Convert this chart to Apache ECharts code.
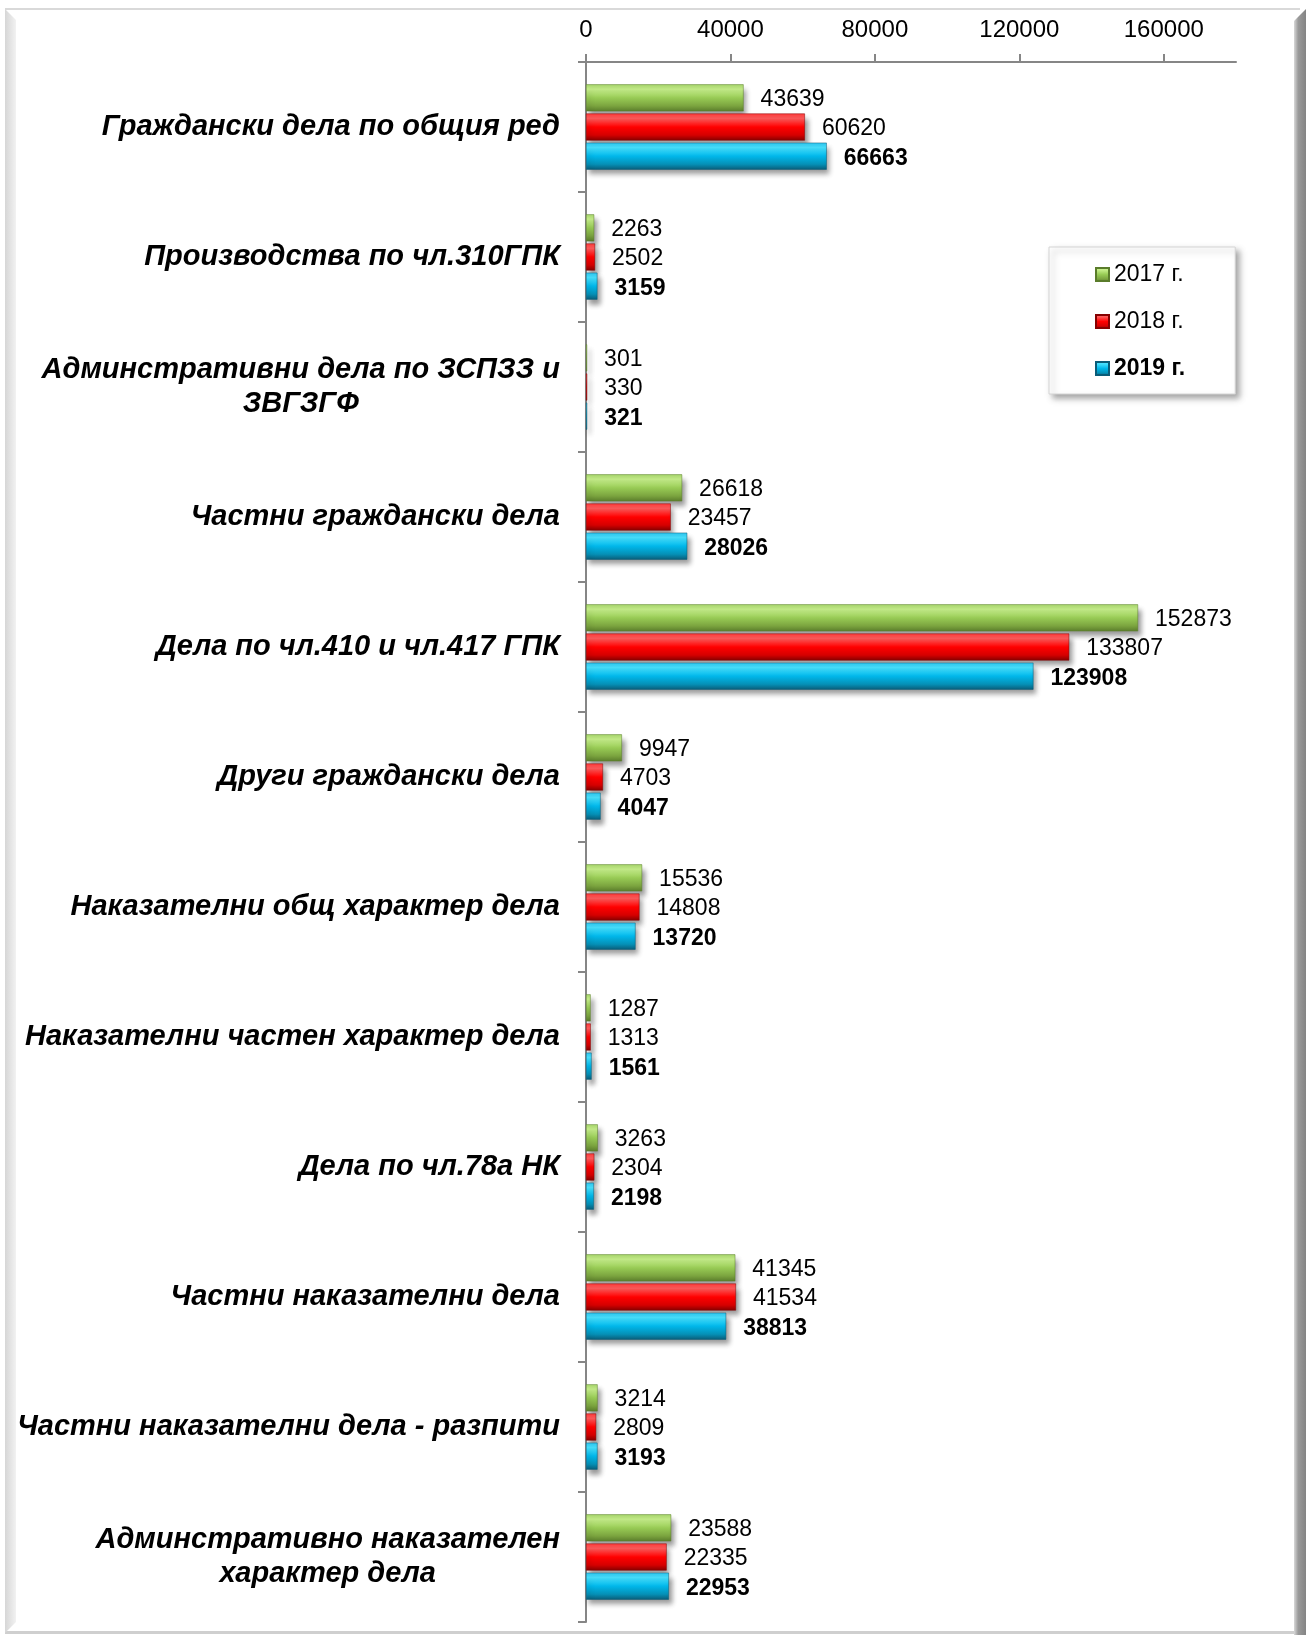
<!DOCTYPE html>
<html>
<head>
<meta charset="utf-8">
<title>Дела 2017-2019</title>
<script src="https://cdn.jsdelivr.net/npm/echarts@6/dist/echarts.min.js"></script>
<style>
  html, body { margin: 0; padding: 0; background: #fff; }
  #chart { width: 1306px; height: 1635px; }
</style>
</head>
<body>
<div id="chart"></div>
<script>
// категории (отгоре надолу)
const categories = [
  'Граждански дела по общия ред',
  'Производства по чл.310ГПК',
  'Админстративни дела по ЗСПЗЗ и\nЗВГЗГФ',
  'Частни граждански дела',
  'Дела по чл.410 и чл.417 ГПК',
  'Други граждански дела',
  'Наказателни общ характер дела',
  'Наказателни частен характер дела',
  'Дела по чл.78а НК',
  'Частни наказателни дела',
  'Частни наказателни дела - разпити',
  'Админстративно наказателен\nхарактер дела'
];
const seriesNames = ['2017 г.', '2018 г.', '2019 г.'];
const v2017 = [43639, 2263, 301, 26618, 152873, 9947, 15536, 1287, 3263, 41345, 3214, 23588];
const v2018 = [60620, 2502, 330, 23457, 133807, 4703, 14808, 1313, 2304, 41534, 2809, 22335];
const v2019 = [66663, 3159, 321, 28026, 123908, 4047, 13720, 1561, 2198, 38813, 3193, 22953];
const xTicks = [0, 40000, 80000, 120000, 160000];

const FONT = '"Liberation Sans", Arial, sans-serif';
const chart = echarts.init(document.getElementById('chart'));

// обемен вид на лентите - вертикален градиент
function bevel(c) {
  return new echarts.graphic.LinearGradient(0, 0, 0, 1, [
    { offset: 0, color: c[0] },
    { offset: 0.18, color: c[1] },
    { offset: 0.5, color: c[2] },
    { offset: 0.8, color: c[3] },
    { offset: 1, color: c[4] }
  ]);
}
const palettes = [
  ['#a5d46a', '#c8f08c', '#98cb55', '#7ba43f', '#5a7c2b'],
  ['#ff3a3a', '#ff5c5c', '#ff0000', '#d60000', '#850000'],
  ['#2cc4ee', '#48e2ff', '#00b7ea', '#0590b6', '#0a5c78']
];
const allValues = [v2017, v2018, v2019];

const series = allValues.map((vals, i) => ({
  name: seriesNames[i],
  type: 'bar',
  data: vals,
  barWidth: 27,
  barGap: '8%',
  itemStyle: {
    color: bevel(palettes[i]),
    borderColor: palettes[i][4],
    borderWidth: 0.5,
    shadowColor: 'rgba(0,0,0,0.4)',
    shadowBlur: 5,
    shadowOffsetX: 3,
    shadowOffsetY: 5
  },
  label: {
    show: true,
    position: 'right',
    distance: 17,
    offset: [0, 2],
    color: '#000',
    fontFamily: FONT,
    fontSize: 23,
    fontWeight: i === 2 ? 'bold' : 'normal'
  }
}));

const option = {
  backgroundColor: '#fff',
  animation: false,
  textStyle: { fontFamily: FONT },
  grid: {
    left: 586,
    right: 70,
    top: 62,
    bottom: 13,
    containLabel: false,
    outerBoundsMode: 'none'
  },
  xAxis: {
    type: 'value',
    position: 'top',
    min: 0,
    max: 180000,
    interval: 40000,
    axisLine: { show: true, lineStyle: { color: '#868686', width: 2 } },
    axisTick: { show: true, length: 8, lineStyle: { color: '#868686', width: 2 }, customValues: xTicks },
    axisLabel: {
      color: '#000', fontSize: 24, fontFamily: FONT, margin: 20,
      customValues: xTicks,
      formatter: v => String(v)
    },
    splitLine: { show: false }
  },
  yAxis: {
    type: 'category',
    inverse: true,
    data: categories,
    axisLine: { show: true, lineStyle: { color: '#868686', width: 2 } },
    axisTick: { show: true, length: 8, lineStyle: { color: '#868686', width: 2 } },
    axisLabel: {
      margin: 26,
      formatter: v => v.split('\n').map(s => '{c|' + s + '}').join('\n'),
      rich: {
        c: {
          align: 'center',
          color: '#000',
          fontSize: 29,
          fontWeight: 'bold',
          fontStyle: 'italic',
          fontFamily: FONT,
          lineHeight: 34
        }
      }
    }
  },
  legend: {
    orient: 'vertical',
    left: 1049,
    top: 247,
    padding: [16, 50, 14, 46],
    itemWidth: 13,
    itemHeight: 13,
    itemGap: 24,
    icon: 'rect',
    backgroundColor: '#fff',
    borderColor: '#d4d4d4',
    borderWidth: 1,
    shadowColor: 'rgba(0,0,0,0.35)',
    shadowBlur: 6,
    shadowOffsetX: 4,
    shadowOffsetY: 4,
    textStyle: { color: '#000', fontSize: 23, fontFamily: FONT },
    data: [
      { name: seriesNames[0] },
      { name: seriesNames[1] },
      { name: seriesNames[2], textStyle: { fontWeight: 'bold' } }
    ]
  },
  graphic: [
    // рамка с обемен ефект
    { type: 'rect', shape: { x: 5, y: 8, width: 1295, height: 2 }, style: { fill: '#d9d9d9' }, silent: true },
    { type: 'rect', shape: { x: 5, y: 1631, width: 1295, height: 3 }, style: { fill: '#cfcfcf' }, silent: true },
    {
      type: 'polygon',
      shape: { points: [[5, 9], [16, 20], [16, 1622], [5, 1633]] },
      style: { fill: new echarts.graphic.LinearGradient(0, 0, 1, 0, [{ offset: 0, color: '#d6d6d6' }, { offset: 1, color: '#f2f2f2' }]) },
      silent: true
    },
    {
      type: 'polygon',
      shape: { points: [[1306, 9], [1294, 21], [1294, 1635], [1306, 1635]] },
      style: { fill: new echarts.graphic.LinearGradient(0, 0, 1, 0, [{ offset: 0, color: '#d8d8d8' }, { offset: 0.35, color: '#9a9a9a' }, { offset: 1, color: '#848484' }]) },
      silent: true
    }
  ],
  series: series
};

chart.setOption(option);
</script>
</body>
</html>
